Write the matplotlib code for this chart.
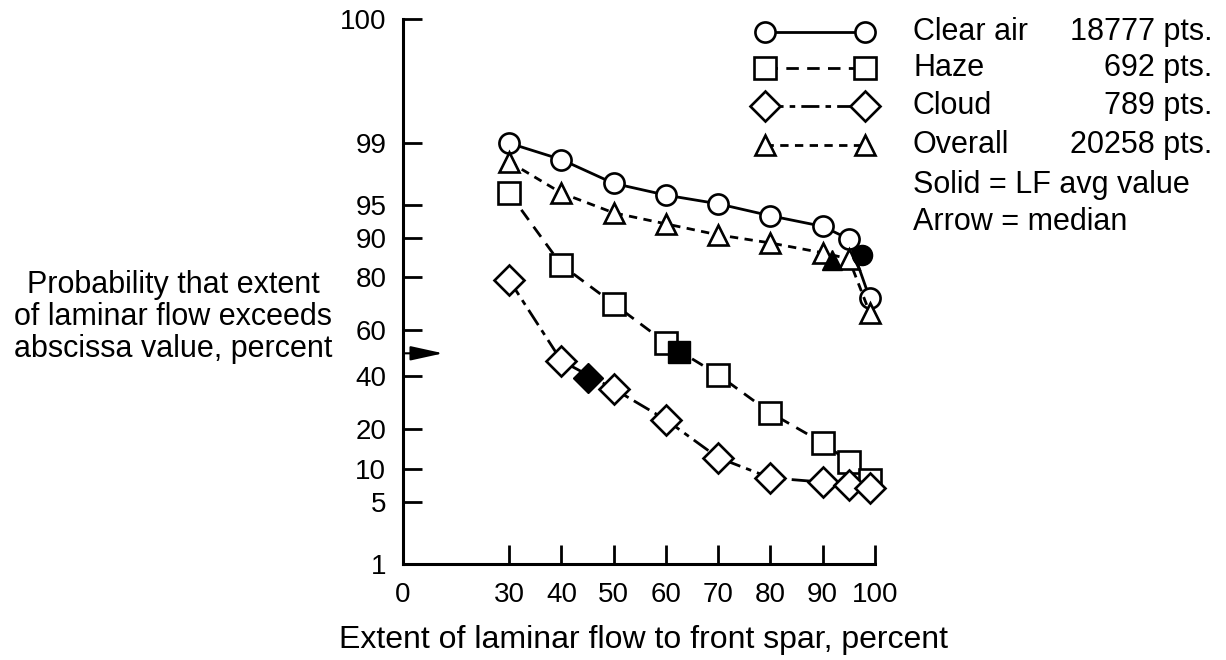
import numpy as np
import matplotlib
matplotlib.use("Agg")
import matplotlib.pyplot as plt
from matplotlib.lines import Line2D
from math import erf, sqrt

plt.rcParams['font.family'] = ['Liberation Sans', 'DejaVu Sans']

# Extent of laminar flow to front spar, percent
extent = [30, 40, 50, 60, 70, 80, 90, 95, 99]

# Probability that extent of laminar flow exceeds abscissa value, percent
clear_air = [99.0, 98.4, 97.0, 96.0, 95.1, 93.6, 92.0, 89.7, 72.8]
haze = [96.2, 83.6, 70.8, 54.6, 40.6, 25.5, 16.1, 11.5, 8.1]
cloud = [79.2, 46.7, 34.7, 23.1, 12.4, 8.4, 7.7, 7.3, 6.8]
overall = [98.3, 96.2, 94.0, 92.4, 90.5, 88.9, 86.7, 85.2, 67.3]

# LF average value (solid symbols)
avg_extent = [97.5, 62.5, 45.0, 91.8]
avg_prob = [86.2, 50.7, 39.3, 85.0]

names = ['Clear air', 'Haze', 'Cloud', 'Overall']
counts = ['18777 pts.', '692 pts.', '789 pts.', '20258 pts.']
median_prob = 50

x_ticks = [0, 30, 40, 50, 60, 70, 80, 90, 100]
y_ticks = [1, 5, 10, 20, 40, 60, 80, 90, 95, 99, 100]


# broken x axis: 0..30 squeezed
def x_fwd(x):
    x = np.asarray(x, dtype=float)
    return np.where(x >= 30, x, 9.7 + x * 20.3 / 30)


def x_inv(s):
    s = np.asarray(s, dtype=float)
    return np.where(s >= 30, s, (s - 9.7) * 30 / 20.3)


# normal probability scale
z_grid = np.linspace(-3.7, 3.7, 4001)
p_grid = np.array([50 * (1 + erf(z / sqrt(2))) for z in z_grid])


def y_fwd(p):
    return np.interp(p, p_grid, z_grid)


def y_inv(z):
    return np.interp(z, z_grid, p_grid)


W, H = 1226, 660
fig = plt.figure(figsize=(W / 100, H / 100), dpi=100)
ax = fig.add_axes([403 / W, 1 - 563.5 / H, 472 / W, 544.5 / H])
ax.set_xscale('function', functions=(x_fwd, x_inv))
ax.set_yscale('function', functions=(y_fwd, y_inv))

styles = [
    dict(marker='o', ls='-', ms=14.5),
    dict(marker='s', ls=(0, (4.5, 3)), ms=15.5),
    dict(marker='D', ls=(0, (6.5, 2.2, 2, 2.2)), ms=15),
    dict(marker='^', ls=(0, (3, 2.3)), ms=14.5),
]
series = [clear_air, haze, cloud, overall]

for vals, st in zip(series, styles):
    ax.plot(extent, vals, color='black', lw=2, mfc='white', mec='black',
            mew=1.9, clip_on=False, zorder=2, **st)

for xe, pe, st in zip(avg_extent, avg_prob, styles):
    ax.plot([xe], [pe], ls='none', marker=st['marker'], ms=st['ms'],
            color='black', clip_on=False, zorder=3)

# median arrow
ax.annotate('', xy=(0.085, median_prob), xytext=(0.0, median_prob),
            xycoords=('axes fraction', 'data'), textcoords=('axes fraction', 'data'),
            arrowprops=dict(arrowstyle='-|>,head_length=1.0,head_width=0.22',
                            mutation_scale=20, color='black', lw=1.5,
                            shrinkA=0, shrinkB=0))

ax.set_xlim(0, 100)
ax.set_ylim(1, 100)
ax.set_xticks(x_ticks)
ax.set_xticklabels([str(v) for v in x_ticks])
ax.set_yticks(y_ticks)
ax.set_yticklabels([str(v) for v in y_ticks])
ax.minorticks_off()

for s in ['top', 'right']:
    ax.spines[s].set_visible(False)
for s in ['left', 'bottom']:
    ax.spines[s].set_linewidth(2.2)

ax.tick_params(axis='both', direction='in', length=14, width=2, labelsize=20)
ax.tick_params(axis='x', pad=13)
ax.tick_params(axis='y', pad=12)

ax.set_xlabel('Extent of laminar flow to front spar, percent', fontsize=23)
ax.xaxis.set_label_coords(0.51, -0.14)
ax.xaxis.label.set_va('center')
ax.set_ylabel('Probability that extent\nof laminar flow exceeds\nabscissa value, percent',
              fontsize=22, rotation=0, ha='center', va='center',
              multialignment='center', linespacing=1.1)
ax.yaxis.set_label_coords(-0.487, 0.453)

# legend drawn in figure pixels
rows = [32, 68, 106, 145]
for row, st, name, cnt in zip(rows, styles, names, counts):
    yy = 1 - row / H
    fig.add_artist(Line2D([765 / W, 865 / W], [yy, yy], transform=fig.transFigure,
                          color='black', lw=2, mfc='white', mec='black', mew=1.9,
                          **st))
    fig.text(913 / W, yy, name, fontsize=22, ha='left', va='center')
    fig.text(1212 / W, yy, cnt, fontsize=22, ha='right', va='center')

fig.text(913 / W, 1 - 185 / H, 'Solid = LF avg value', fontsize=22, ha='left', va='center')
fig.text(913 / W, 1 - 222 / H, 'Arrow = median', fontsize=22, ha='left', va='center')

fig.savefig('out.png', dpi=100)
